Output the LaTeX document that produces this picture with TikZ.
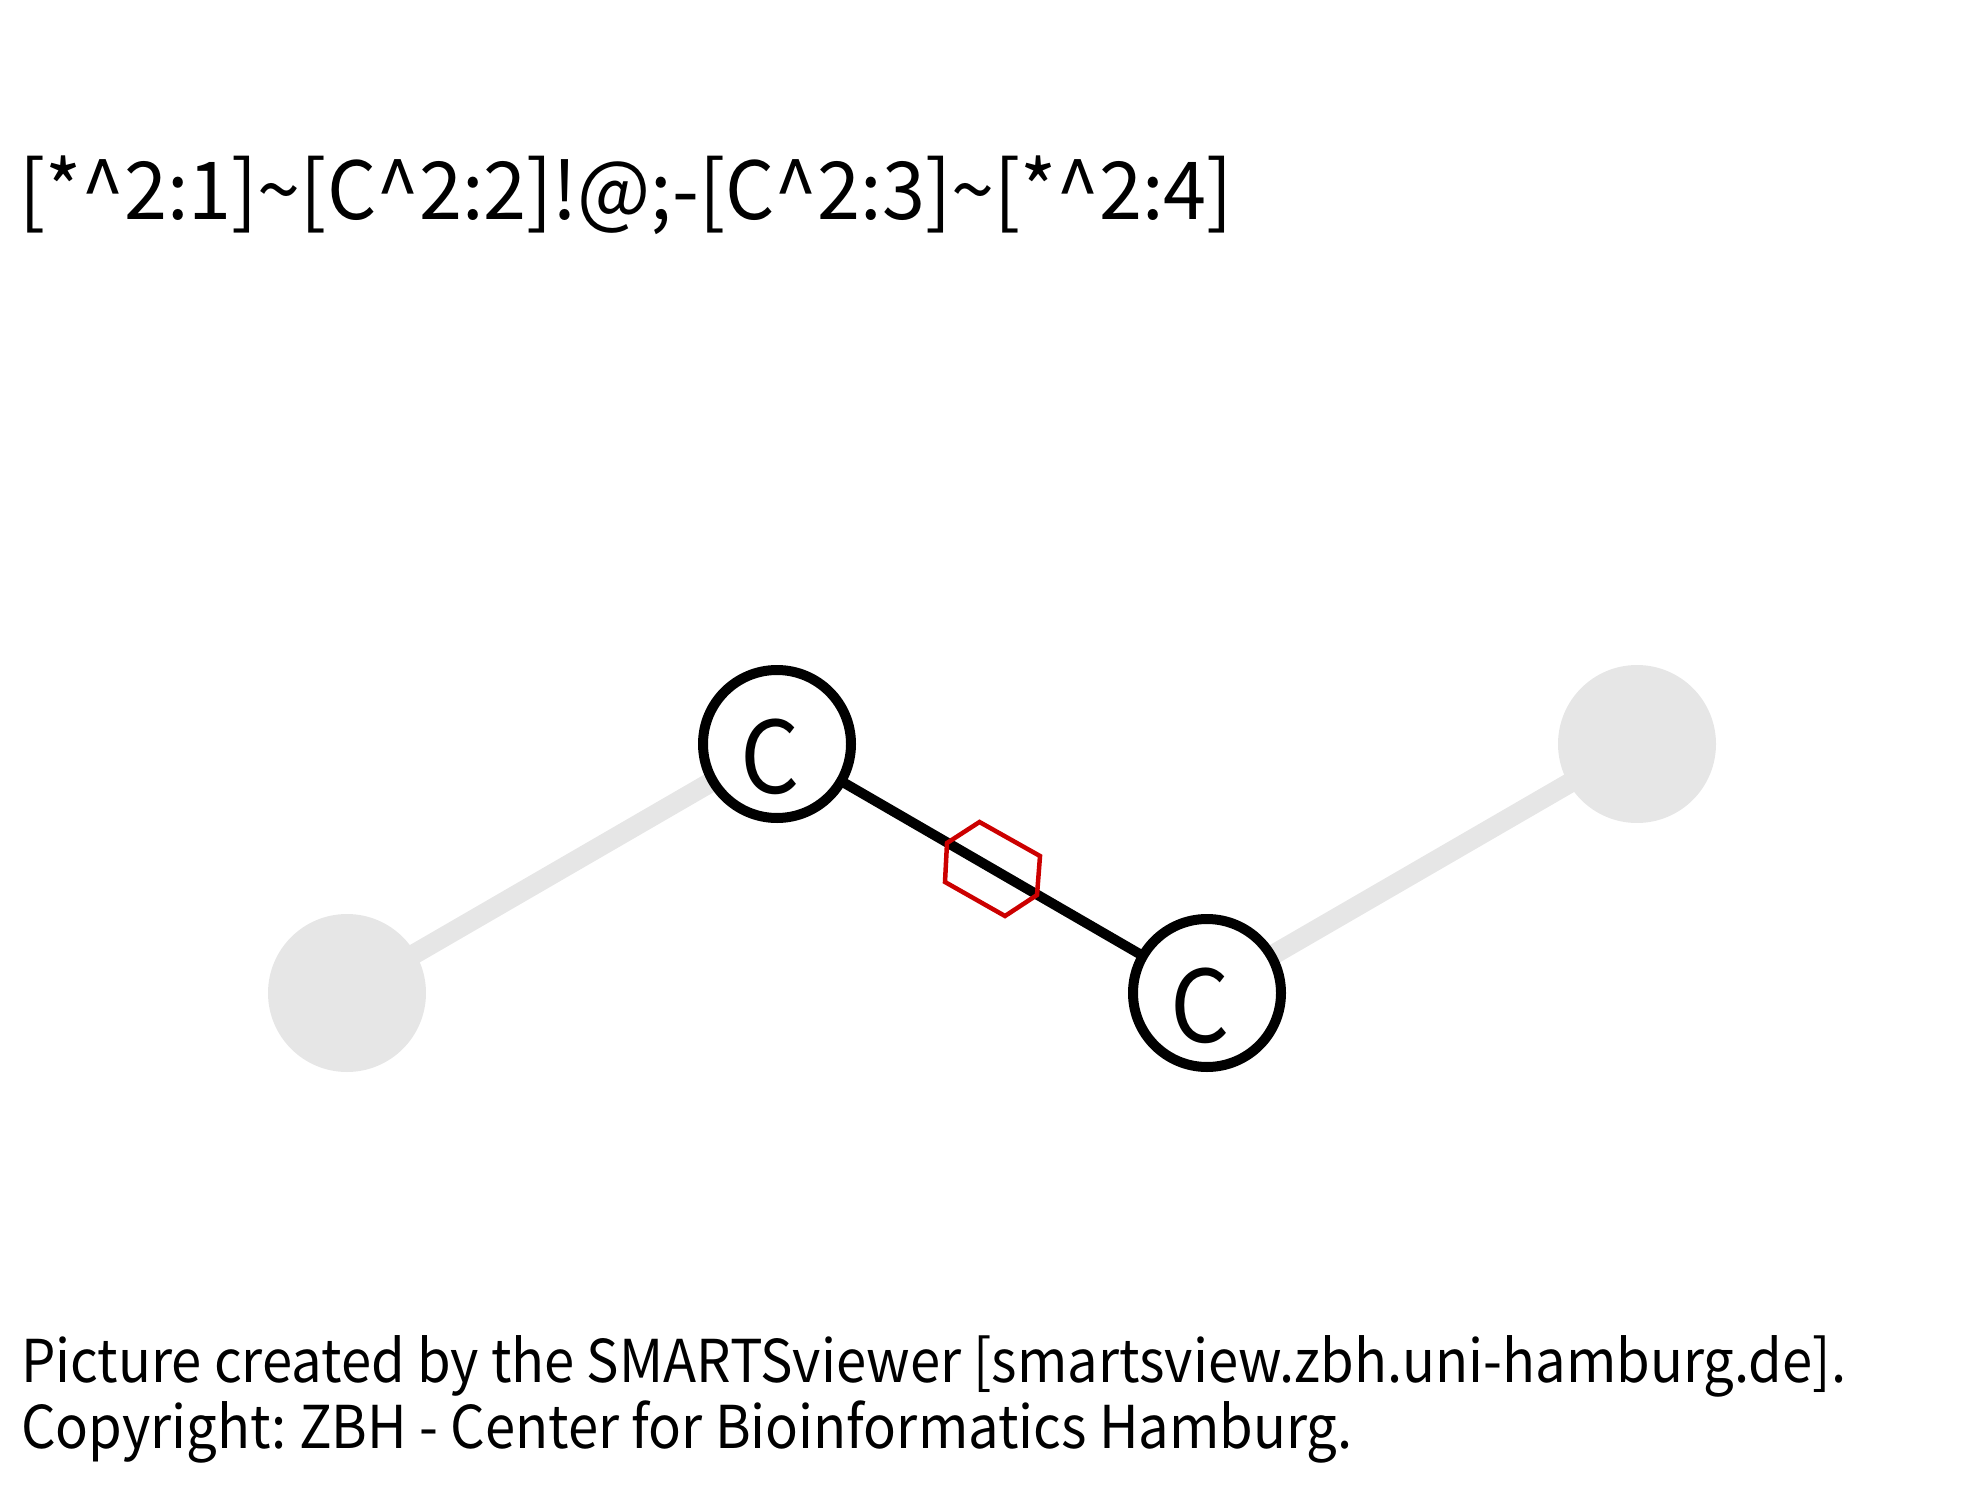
\documentclass[tikz,border=0pt]{standalone}
\usepackage{fontspec}
\setmainfont{Noto Sans CJK JP}
\newfontfamily\titlefont[FakeStretch=0.967]{Noto Sans CJK JP}
\newfontfamily\bodyfont[FakeStretch=0.922]{Noto Sans CJK JP}
\newfontfamily\atomfont[FakeStretch=0.93]{Noto Sans CJK JP}
\frenchspacing
\definecolor{ghost}{RGB}{230,230,230}
\definecolor{ringred}{RGB}{204,0,0}
\tikzset{
 ghostatom/.style={circle,fill=ghost,minimum size=158,inner sep=0pt},
 atomc/.style={circle,draw=black,line width=10,fill=white,minimum size=148,inner sep=0pt},
 atomlabel/.style={inner sep=0pt,font=\atomfont\fontsize{100}{100}\selectfont},
 ghostbond/.style={ghost,line width=20},
 realbond/.style={black,line width=10},
 txt/.style={anchor=base west,inner sep=0pt},
}
\begin{document}
\begin{tikzpicture}[x=1pt,y=-1pt]
\useasboundingbox (0,0) rectangle (1984,1495);
\coordinate (p1) at (347,993);
\coordinate (p2) at (777,744);
\coordinate (p3) at (1207,993);
\coordinate (p4) at (1637,744);
\draw[ghostbond] (p1) -- (p2);
\draw[ghostbond] (p3) -- (p4);
\draw[realbond] (p2) -- (p3);
\node[ghostatom] (a1) at (p1) {};
\node[ghostatom] (a4) at (p4) {};
\node[atomc] (a2) at (p2) {};
\node[atomc] (a3) at (p3) {};
\node[atomlabel] (c2) at (770,757) {C};
\node[atomlabel] (c3) at (1200,1006) {C};
\draw[ringred,line width=4.5] (979.5,822) -- (1040,856) -- (1037,895) -- (1005,916) -- (945,882) -- (947,843) -- cycle;
\node[txt,font=\titlefont\fontsize{80}{80}\selectfont] (title) at (19,220) {[*\^{}2:1]\textasciitilde[C\^{}2:2]!@;-[C\^{}2:3]\textasciitilde[*\^{}2:4]};
\node[txt,font=\bodyfont\fontsize{59}{59}\selectfont] (l1) at (21,1382) {Picture created by the SMARTSviewer [smartsview.zbh.uni-hamburg.de].};
\node[txt,font=\bodyfont\fontsize{59}{59}\selectfont] (l2) at (21,1448) {Copyright: ZBH - Center for Bioinformatics Hamburg.};
\end{tikzpicture}
\end{document}
